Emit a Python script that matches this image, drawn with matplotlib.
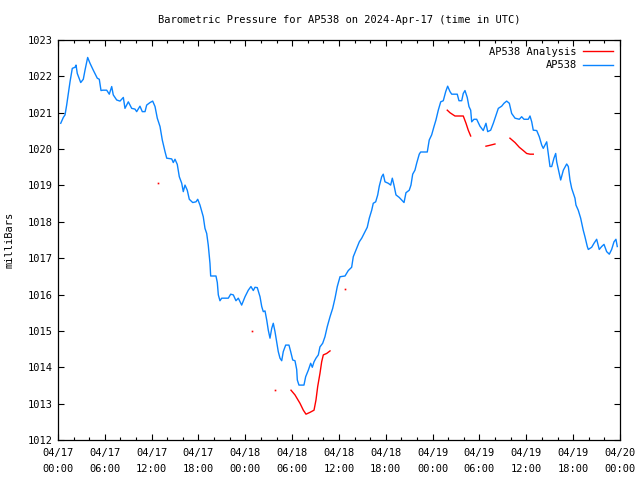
import numpy as np
import pandas as pd
import matplotlib
matplotlib.use('Agg')
import matplotlib.pyplot as plt
import matplotlib.dates as mdates

plt.rcParams['font.family'] = 'DejaVu Sans Mono'
plt.rcParams['font.size'] = 7.5

start = pd.Timestamp('2024-04-17 00:00')

# hours since 04/17 00:00 UTC and pressure (mb) for the station
obs_hours = [0.35, 0.68, 0.90, 1.11, 1.32, 1.54, 1.83, 2.18, 2.31, 2.47, 2.91, 3.24, 3.46, 3.80,
             4.10, 4.52, 5.03, 5.29, 5.51, 5.73, 6.24, 6.57, 6.88, 7.08, 7.52, 7.94, 8.37, 8.58,
             9.01, 9.44, 9.86, 10.08, 10.50, 10.80, 11.15, 11.36, 11.79, 12.13, 12.43, 12.72,
             13.07, 13.36, 13.71, 13.93, 14.57, 14.77, 14.99, 15.28, 15.54, 15.85, 16.05, 16.27,
             16.56, 16.82, 17.26, 17.68, 17.90, 18.19, 18.61, 18.83, 19.05, 19.25, 19.47, 19.56,
             20.24, 20.41, 20.54, 20.75, 20.97, 21.82, 22.12, 22.46, 22.80, 23.10, 23.53, 23.96,
             24.38, 24.72, 25.02, 25.24, 25.53, 25.88, 26.10, 26.30, 26.52, 26.74, 26.94, 27.16,
             27.38, 27.58, 27.80, 28.02, 28.22, 28.44, 28.66, 28.86, 29.17, 29.59, 29.81, 30.07,
             30.36, 30.58, 30.66, 30.87, 31.51, 31.73, 32.07, 32.37, 32.58, 32.80, 33.05, 33.35,
             33.56, 33.91, 34.20, 34.50, 34.85, 35.19, 35.49, 35.78, 36.13, 36.77, 37.19, 37.62,
             37.83, 38.27, 38.60, 38.91, 39.33, 39.62, 39.88, 40.19, 40.39, 40.70, 40.96, 41.16,
             41.47, 41.67, 41.89, 42.31, 42.62, 42.83, 43.04, 43.30, 43.72, 44.03, 44.33, 44.58,
             45.00, 45.22, 45.44, 45.73, 45.95, 46.28, 46.46, 47.31, 47.56, 47.87, 48.17, 48.42,
             48.72, 49.03, 49.36, 49.67, 49.92, 50.22, 50.44, 51.15, 51.37, 51.72, 51.92, 52.14,
             52.43, 52.65, 52.87, 53.00, 53.29, 53.64, 54.06, 54.48, 54.83, 55.05, 55.43, 55.77,
             56.20, 56.41, 56.84, 57.14, 57.48, 57.82, 58.12, 58.55, 59.10, 59.40, 59.70, 60.25,
             60.47, 60.69, 60.89, 61.33, 61.66, 61.97, 62.17, 62.39, 62.61, 62.81, 63.03, 63.25,
             63.54, 63.76, 63.89, 64.22, 64.40, 64.74, 65.17, 65.38, 65.59, 65.81, 66.23, 66.36,
             66.65, 66.96, 67.29, 67.51, 67.81, 67.94, 68.37, 68.67, 69.01, 69.34, 69.65, 69.95,
             70.29, 70.63, 70.93, 71.23, 71.48, 71.65]
obs_mb = [1020.71, 1020.87, 1020.94, 1021.21, 1021.53, 1021.85, 1022.22, 1022.25, 1022.31, 1022.08,
          1021.83, 1021.92, 1022.17, 1022.52, 1022.36, 1022.17, 1021.95, 1021.92, 1021.61, 1021.62,
          1021.62, 1021.51, 1021.72, 1021.49, 1021.35, 1021.32, 1021.42, 1021.12, 1021.30, 1021.12,
          1021.10, 1021.03, 1021.18, 1021.03, 1021.03, 1021.21, 1021.28, 1021.32, 1021.17, 1020.85,
          1020.62, 1020.25, 1019.93, 1019.75, 1019.73, 1019.63, 1019.72, 1019.58, 1019.24, 1019.06,
          1018.83, 1019.01, 1018.87, 1018.62, 1018.53, 1018.55, 1018.62, 1018.46, 1018.14, 1017.82,
          1017.68, 1017.36, 1016.86, 1016.51, 1016.51, 1016.33, 1015.99, 1015.83, 1015.90, 1015.90,
          1016.01, 1015.99, 1015.83, 1015.90, 1015.71, 1015.94, 1016.12, 1016.22, 1016.11, 1016.20,
          1016.19, 1015.94, 1015.67, 1015.53, 1015.55, 1015.30, 1015.02, 1014.80, 1015.07, 1015.21,
          1014.98, 1014.70, 1014.43, 1014.25, 1014.18, 1014.43, 1014.61, 1014.61, 1014.43, 1014.20,
          1014.18, 1013.94, 1013.65, 1013.51, 1013.51, 1013.74, 1013.92, 1014.11, 1014.00, 1014.15,
          1014.25, 1014.34, 1014.56, 1014.66, 1014.84, 1015.12, 1015.39, 1015.62, 1015.90, 1016.22,
          1016.49, 1016.51, 1016.66, 1016.75, 1017.04, 1017.27, 1017.45, 1017.55, 1017.73, 1017.85,
          1018.10, 1018.32, 1018.51, 1018.55, 1018.74, 1018.98, 1019.24, 1019.31, 1019.10, 1019.06,
          1019.01, 1019.20, 1019.01, 1018.74, 1018.67, 1018.60, 1018.53, 1018.80, 1018.87, 1019.01,
          1019.31, 1019.42, 1019.61, 1019.86, 1019.92, 1019.92, 1020.25, 1020.39, 1020.62, 1020.80,
          1021.07, 1021.30, 1021.33, 1021.58, 1021.73, 1021.58, 1021.51, 1021.51, 1021.33, 1021.33,
          1021.53, 1021.61, 1021.42, 1021.17, 1021.07, 1020.75, 1020.82, 1020.82, 1020.63, 1020.51,
          1020.71, 1020.48, 1020.52, 1020.71, 1020.98, 1021.12, 1021.18, 1021.26, 1021.32, 1021.26,
          1020.98, 1020.85, 1020.82, 1020.89, 1020.82, 1020.82, 1020.91, 1020.75, 1020.52, 1020.51,
          1020.34, 1020.11, 1020.02, 1020.11, 1020.20, 1019.88, 1019.52, 1019.52, 1019.75, 1019.88,
          1019.65, 1019.33, 1019.15, 1019.42, 1019.59, 1019.52, 1019.15, 1018.92, 1018.65, 1018.46,
          1018.32, 1018.10, 1017.77, 1017.59, 1017.32, 1017.24, 1017.30, 1017.41, 1017.52, 1017.24,
          1017.32, 1017.38, 1017.18, 1017.11, 1017.24, 1017.45, 1017.52, 1017.32]

# analysis values, NaN marks a gap
ana_hours = [12.85, np.nan, 24.89, np.nan, 27.84, np.nan,
             29.85, 30.36, 31.00, 31.43, 31.77, 32.28, 32.80, 33.05, 33.27, 33.56, 33.78, 33.99,
             34.42, 34.85, np.nan, 36.80, np.nan,
             49.87, 50.22, 50.64, 50.86, 51.92, 52.27, 52.56, 52.87, np.nan,
             54.83, 55.25, 55.98, np.nan,
             57.90, 58.55, 59.10, 59.61, 60.04, 60.47, 60.89]
ana_mb = [1019.07, np.nan, 1014.99, np.nan, 1013.37, np.nan,
          1013.37, 1013.24, 1013.01, 1012.82, 1012.71, 1012.76, 1012.82, 1013.10, 1013.47, 1013.83,
          1014.15, 1014.34, 1014.38, 1014.45, np.nan, 1016.15, np.nan,
          1021.07, 1021.00, 1020.94, 1020.91, 1020.91, 1020.71, 1020.52, 1020.36, np.nan,
          1020.08, 1020.10, 1020.14, np.nan,
          1020.30, 1020.18, 1020.05, 1019.96, 1019.88, 1019.86, 1019.86]

obs_t = start + pd.to_timedelta(obs_hours, unit='h')
ana_h = np.array(ana_hours)
ana_v = np.array(ana_mb)
ana_t = start + pd.to_timedelta(np.nan_to_num(ana_h), unit='h')
ana_t = pd.Series(ana_t).where(~np.isnan(ana_h))

# single analysis points with gaps on both sides
ok = ~np.isnan(ana_v)
prev_ok = np.r_[False, ok[:-1]]
next_ok = np.r_[ok[1:], False]
lone = ok & ~prev_ok & ~next_ok

fig = plt.figure(figsize=(6.4, 4.8), dpi=100)
ax = fig.add_axes([58/640, 40/480, 562/640, 400/480])

ax.plot(ana_t, ana_v, color='#ff0000', lw=1.0, label='AP538 Analysis')
ax.plot(ana_t[lone], ana_v[lone], 's', color='#ff0000', ms=1.2, mew=0)
ax.plot(obs_t, obs_mb, color='#0a84ff', lw=1.0, label='AP538')

ax.set_xlim(start, start + pd.Timedelta(hours=72))
ax.set_ylim(1012, 1023)
ax.xaxis.set_major_locator(mdates.HourLocator(byhour=[0, 6, 12, 18]))
ax.xaxis.set_minor_locator(mdates.HourLocator(interval=2))
ax.xaxis.set_major_formatter(mdates.DateFormatter('%m/%d\n%H:%M'))
ax.yaxis.set_major_locator(matplotlib.ticker.MultipleLocator(1))
ax.tick_params(which='major', direction='in', length=4.5, width=0.8, top=True, right=True,
               labelsize=7.5, pad=4)
ax.tick_params(axis='x', which='major', pad=6)
ax.tick_params(which='minor', direction='in', length=2.2, width=0.8, top=True, right=True)
for lab in ax.get_xticklabels():
    lab.set_linespacing(1.7)
for s in ax.spines.values():
    s.set_linewidth(0.9)

ax.set_ylabel('milliBars', fontsize=7.5, labelpad=9)
ax.set_title('Barometric Pressure for AP538 on 2024-Apr-17 (time in UTC)', fontsize=7.5, pad=12)

ax.legend(loc='upper right', frameon=False, markerfirst=False, handlelength=2.9,
          handletextpad=0.6, labelspacing=0.35, borderaxespad=0.25, fontsize=7.5)

fig.savefig('out.png', dpi=100)
